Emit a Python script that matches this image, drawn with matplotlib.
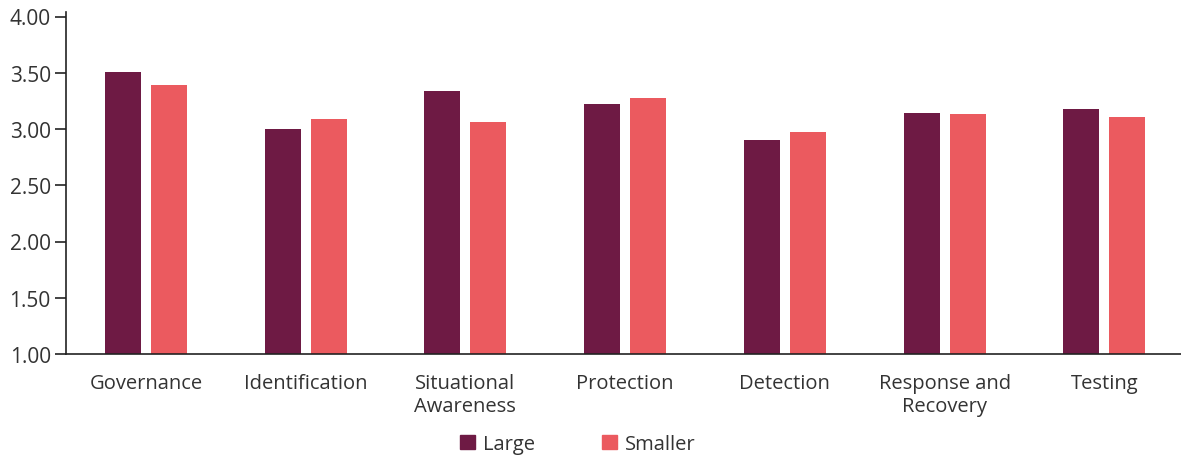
import numpy as np
import matplotlib.pyplot as plt
from matplotlib.patches import Patch

plt.rcParams['font.family'] = ['Open Sans', 'DejaVu Sans']

categories = ["Governance", "Identification", "Situational\nAwareness", "Protection",
              "Detection", "Response and\nRecovery", "Testing"]
large = [3.51, 3.00, 3.34, 3.22, 2.90, 3.14, 3.18]
smaller = [3.39, 3.09, 3.06, 3.28, 2.97, 3.13, 3.11]

c_large = "#6E1A44"
c_small = "#EB5A5F"
txt = "#333333"

fig = plt.figure(figsize=(11.81, 4.56), dpi=100)
ax = fig.add_axes([66/1181, 1 - 355/456, 1 - 66/1181, (355 - 13)/456])

x = np.arange(len(categories))
w = 0.225
off = 0.144
ax.bar(x - off, large, w, bottom=0, color=c_large, zorder=2)
ax.bar(x + off, smaller, w, bottom=0, color=c_small, zorder=2)

ax.set_xlim(-0.5, 6.48)
ax.set_ylim(1.0, 4.04)
ax.set_yticks(np.arange(1.0, 4.01, 0.5))
ax.set_yticklabels([f"{v:.2f}" for v in np.arange(1.0, 4.01, 0.5)])
ax.set_xticks(x)
ax.set_xticklabels(categories, linespacing=1.15)

ax.tick_params(axis='y', length=8, width=1.2, color="#222222", labelsize=15,
               labelcolor=txt, pad=3)
ax.tick_params(axis='x', length=0, labelsize=14.5, labelcolor=txt, pad=14)

for s in ["top", "right"]:
    ax.spines[s].set_visible(False)
for s in ["left", "bottom"]:
    ax.spines[s].set_color("#222222")
    ax.spines[s].set_linewidth(1.2)

handles = [Patch(color=c_large, label="Large"), Patch(color=c_small, label="Smaller")]
fig.legend(handles=handles, loc="center", bbox_to_anchor=(578/1181, 1 - 445/456),
           ncol=2, frameon=False, fontsize=14.5, handlelength=0.75, handleheight=0.75,
           handletextpad=0.4, columnspacing=3.3, labelcolor=txt)

fig.savefig("out.png", dpi=100)
